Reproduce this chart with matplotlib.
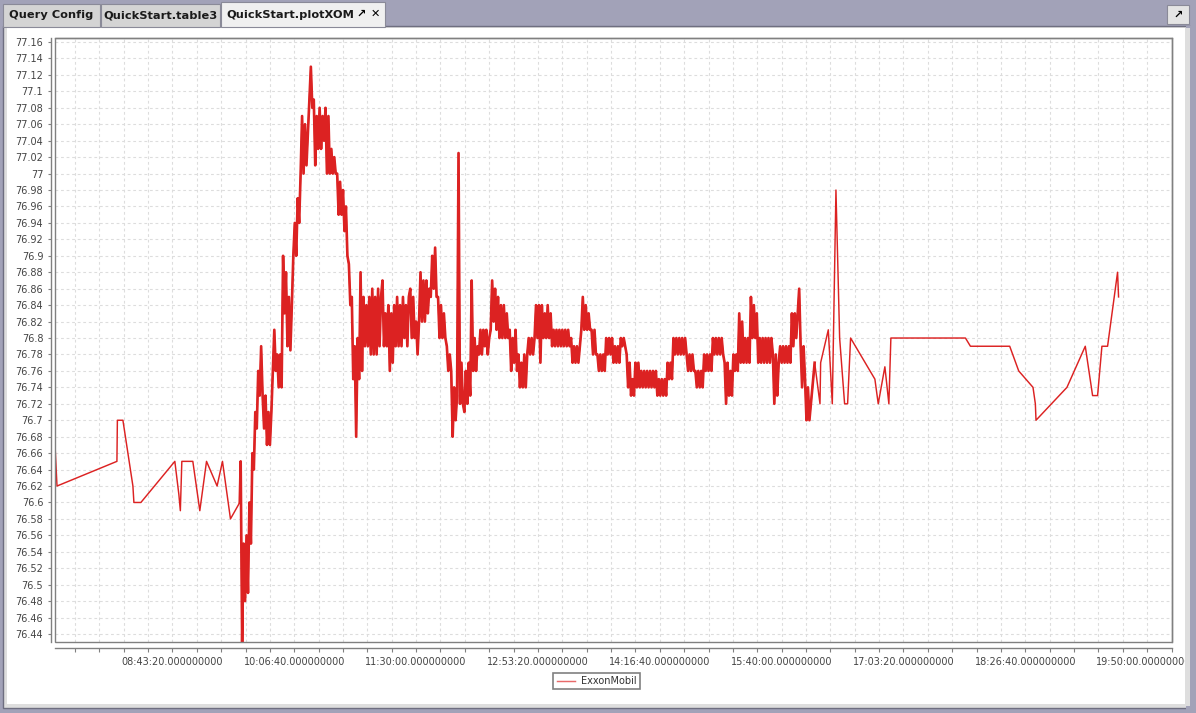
import numpy as np
import matplotlib
matplotlib.use("Agg")
import matplotlib.pyplot as plt
from matplotlib.patches import Rectangle
from matplotlib.ticker import FixedLocator, FuncFormatter, MultipleLocator

# --- data -------------------------------------------------------------
series_name = "ExxonMobil"

# pre-market trades
pre_times = ["07:23:00", "07:24:22", "08:05:21", "08:05:40", "08:09:27", "08:16:17",
             "08:16:58", "08:21:45", "08:44:58", "08:47:42", "08:48:44", "08:49:45",
             "08:57:16", "09:02:03", "09:06:38", "09:13:52", "09:17:33", "09:23:01",
             "09:29:22"]
pre_prices = [76.67, 76.62, 76.65, 76.70, 76.70, 76.62, 76.60, 76.60, 76.65, 76.61,
              76.59, 76.65, 76.65, 76.59, 76.65, 76.62, 76.65, 76.58, 76.60]

# regular session, one print per minute from 09:30
session_start = "09:30:00"
session_prices = [
    76.65, 76.43, 76.55, 76.48, 76.56, 76.49, 76.60, 76.55, 76.66, 76.64,
    76.71, 76.69, 76.76, 76.73, 76.79, 76.73, 76.69, 76.73, 76.67, 76.71,
    76.67, 76.71, 76.76, 76.81, 76.76, 76.78, 76.74, 76.78, 76.74, 76.90,
    76.83, 76.88, 76.79, 76.85, 76.785, 76.84, 76.90, 76.94, 76.90, 76.97,
    76.94, 77.00, 77.07, 77.00, 77.06, 77.01, 77.05, 77.09, 77.13, 77.08,
    77.09, 77.01, 77.07, 77.03, 77.08, 77.03, 77.07, 77.04, 77.08, 77.00,
    77.07, 77.00, 77.03, 77.00, 77.02, 77.00, 77.00, 76.95, 76.99, 76.95,
    76.98, 76.93, 76.96, 76.90, 76.89, 76.84, 76.85, 76.75, 76.79, 76.68,
    76.80, 76.75, 76.88, 76.76, 76.85, 76.79, 76.84, 76.79, 76.85, 76.78,
    76.86, 76.78, 76.85, 76.78, 76.86, 76.79, 76.85, 76.87, 76.79, 76.83,
    76.79, 76.84, 76.76, 76.83, 76.77, 76.84, 76.79, 76.85, 76.79, 76.84,
    76.79, 76.85, 76.80, 76.84, 76.79, 76.85, 76.86, 76.80, 76.85, 76.80,
    76.82, 76.78, 76.82, 76.88, 76.82, 76.87, 76.82, 76.87, 76.83, 76.86,
    76.85, 76.90, 76.86, 76.91, 76.85, 76.85, 76.80, 76.84, 76.80, 76.83,
    76.80, 76.79, 76.76, 76.78, 76.76, 76.68, 76.74, 76.70, 76.73, 77.025,
    76.72, 76.77, 76.72, 76.71, 76.76, 76.72, 76.77, 76.73, 76.87, 76.76,
    76.80, 76.76, 76.79, 76.78, 76.81, 76.78, 76.81, 76.79, 76.81, 76.78,
    76.80, 76.81, 76.87, 76.82, 76.86, 76.81, 76.85, 76.80, 76.84, 76.80,
    76.84, 76.80, 76.83, 76.80, 76.81, 76.76, 76.80, 76.77, 76.81, 76.76,
    76.78, 76.74, 76.77, 76.74, 76.78, 76.74, 76.78, 76.80, 76.78, 76.80,
    76.78, 76.80, 76.84, 76.80, 76.84, 76.77, 76.84, 76.80, 76.83, 76.80,
    76.84, 76.80, 76.83, 76.79, 76.81, 76.79, 76.81, 76.79, 76.81, 76.79,
    76.81, 76.79, 76.81, 76.79, 76.81, 76.79, 76.80, 76.77, 76.79, 76.77,
    76.79, 76.77, 76.79, 76.81, 76.85, 76.81, 76.84, 76.81, 76.83, 76.81,
    76.81, 76.78, 76.81, 76.78, 76.78, 76.76, 76.78, 76.76, 76.78, 76.76,
    76.80, 76.78, 76.80, 76.78, 76.80, 76.77, 76.79, 76.77, 76.79, 76.77,
    76.80, 76.79, 76.80, 76.79, 76.78, 76.74, 76.77, 76.73, 76.75, 76.73,
    76.77, 76.74, 76.77, 76.74, 76.76, 76.74, 76.76, 76.74, 76.76, 76.74,
    76.76, 76.74, 76.76, 76.74, 76.76, 76.73, 76.75, 76.73, 76.75, 76.73,
    76.75, 76.73, 76.77, 76.75, 76.77, 76.75, 76.80, 76.78, 76.80, 76.78,
    76.80, 76.78, 76.80, 76.78, 76.80, 76.78, 76.76, 76.78, 76.76, 76.78,
    76.76, 76.76, 76.74, 76.76, 76.74, 76.76, 76.74, 76.78, 76.76, 76.78,
    76.76, 76.78, 76.76, 76.80, 76.78, 76.80, 76.78, 76.80, 76.78, 76.80,
    76.78, 76.77, 76.72, 76.77, 76.73, 76.76, 76.73, 76.78, 76.76, 76.78,
    76.76, 76.83, 76.77, 76.82, 76.77, 76.80, 76.77, 76.80, 76.77, 76.85,
    76.80, 76.84, 76.80, 76.83, 76.77, 76.80, 76.77, 76.80, 76.77, 76.80,
    76.77, 76.80, 76.77, 76.80, 76.78, 76.72, 76.78, 76.73, 76.77, 76.79,
    76.77, 76.79, 76.77, 76.79, 76.77, 76.79, 76.77, 76.83, 76.79, 76.83,
    76.80, 76.83, 76.86, 76.79, 76.74, 76.79, 76.75, 76.70, 76.74, 76.70,
]

# after-hours trades
post_times = ["16:02:35", "16:06:14", "16:06:41", "16:11:55", "16:14:39", "16:17:09",
              "16:19:40", "16:23:04", "16:25:07", "16:27:10", "16:43:47", "16:46:04",
              "16:50:37", "16:53:21", "16:54:43", "17:45:43", "17:49:08", "18:16:00",
              "18:22:09", "18:31:56", "18:33:32", "18:33:59", "18:55:09", "19:07:41",
              "19:12:41", "19:16:06", "19:19:04", "19:22:56", "19:29:46", "19:30:27"]
post_prices = [76.77, 76.72, 76.77, 76.81, 76.72, 76.98, 76.80, 76.72, 76.72, 76.80,
               76.75, 76.72, 76.765, 76.72, 76.80, 76.80, 76.79, 76.79, 76.76, 76.74,
               76.72, 76.70, 76.74, 76.79, 76.73, 76.73, 76.79, 76.79, 76.88, 76.85]

tab_names = ["Query Config", "QuickStart.table3", "QuickStart.plotXOM"]


def to_sec(s):
    h, m, sec = (int(v) for v in s.split(":"))
    return h * 3600 + m * 60 + sec


def fmt_time(t, pos=None):
    t = int(round(t))
    if (t - 31400) % 5000 != 0:
        return ""
    return "%02d:%02d:%02d.000000000" % (t // 3600, (t // 60) % 60, t % 60)


def fmt_price(v, pos=None):
    return ("%.2f" % v).rstrip("0").rstrip(".")


session_t = to_sec(session_start) + 60 * np.arange(len(session_prices))
times = np.concatenate([[to_sec(s) for s in pre_times], session_t,
                        [to_sec(s) for s in post_times]])
prices = np.concatenate([pre_prices, session_prices, post_prices])

# --- figure ------------------------------------------------------------
W, H = 1196, 713
fig = plt.figure(figsize=(W / 100, H / 100), dpi=100, facecolor="#a2a2b8")


def px_rect(x0, y0, x1, y1, **kw):
    r = Rectangle((x0 / W, 1 - y1 / H), (x1 - x0) / W, (y1 - y0) / H,
                  transform=fig.transFigure, **kw)
    fig.add_artist(r)
    return r


# window chrome
px_rect(3, 26, 1190, 708, facecolor="#dedede", edgecolor="#6e6e80", lw=1.0, zorder=-5)
px_rect(7, 28, 1185, 704, facecolor="white", edgecolor="none", zorder=-4)
px_rect(1186, 26, W, H, facecolor="#a2a2b8", edgecolor="none", zorder=20)
px_rect(1185, 28, 1190, 706, facecolor="#dedede", edgecolor="none", zorder=21)

tab_spans = [(3, 100), (101, 220), (221, 385)]
for i, (name, (x0, x1)) in enumerate(zip(tab_names, tab_spans)):
    active = i == len(tab_names) - 1
    px_rect(x0, 2 if active else 4, x1, 27,
            facecolor="#f0f0f0" if active else "#d4d4d4",
            edgecolor="#8a8a98", lw=0.8, zorder=-3)
    tx = 226 if active else (x0 + x1) / 2
    fig.text(tx / W, 1 - 15 / H, name, ha="left" if active else "center",
             va="center", fontsize=8.2, fontweight="bold", color="#1a1a1a")
fig.text(361 / W, 1 - 14 / H, "\u2197", ha="center", va="center", fontsize=8,
         fontweight="bold", color="black")
fig.text(375 / W, 1 - 14 / H, "\u2715", ha="center", va="center", fontsize=8,
         fontweight="bold", color="black")
px_rect(1167, 5, 1189, 24, facecolor="#e4e4e4", edgecolor="#8a8a98", lw=0.8, zorder=-3)
fig.text(1178 / W, 1 - 14.5 / H, "\u2197", ha="center", va="center", fontsize=8,
         fontweight="bold", color="black")

# plot area
ax = fig.add_axes([55 / W, 1 - 642 / H, (1172 - 55) / W, (642 - 38) / H])
ax.set_facecolor("white")
ax.plot(times, prices, color="#dc2222", lw=1.05, label=series_name)
# regular-session prints are dense, drawn heavier so the band reads solid
n_pre = len(pre_times)
ax.plot(times[n_pre - 1:n_pre + len(session_prices) + 1],
        prices[n_pre - 1:n_pre + len(session_prices) + 1],
        color="#dc2222", lw=1.9)

ax.set_xlim(26580, 72420)
ax.set_ylim(76.4303, 77.1649)

ax.xaxis.set_major_locator(FixedLocator(np.arange(27400, 72500, 1000)))
ax.xaxis.set_major_formatter(FuncFormatter(fmt_time))
ax.yaxis.set_major_locator(MultipleLocator(0.02))
ax.yaxis.set_major_formatter(FuncFormatter(fmt_price))

ax.grid(True, color="#dddddd", lw=0.8, ls=(0, (2.5, 2.5)))
ax.set_axisbelow(True)

for s in ax.spines.values():
    s.set_color("#808080")
    s.set_linewidth(1.0)
ax.spines["bottom"].set_position(("outward", 4))
ax.spines["left"].set_position(("outward", 3))
ax.add_patch(Rectangle((0, 0), 1, 1, transform=ax.transAxes, fill=False,
                       edgecolor="#808080", lw=1.0, clip_on=False, zorder=5))

ax.tick_params(axis="x", length=3, width=0.8, color="#808080", pad=4,
               labelsize=7, labelcolor="#444444")
ax.tick_params(axis="y", length=2.5, width=0.8, color="#808080", pad=3,
               labelsize=7, labelcolor="#444444")

leg = fig.legend(loc="center", bbox_to_anchor=(596.5 / W, 1 - 681 / H),
                 fontsize=7, frameon=True, fancybox=False, framealpha=1,
                 edgecolor="#808080", handlelength=1.9, handletextpad=0.6,
                 borderpad=0.35, borderaxespad=0)
leg.get_frame().set_linewidth(1.2)
for t in leg.get_texts():
    t.set_color("#333333")
for ln in leg.get_lines():
    ln.set_color("#e86a6a")

fig.savefig("out.png", dpi=100, facecolor=fig.get_facecolor())
